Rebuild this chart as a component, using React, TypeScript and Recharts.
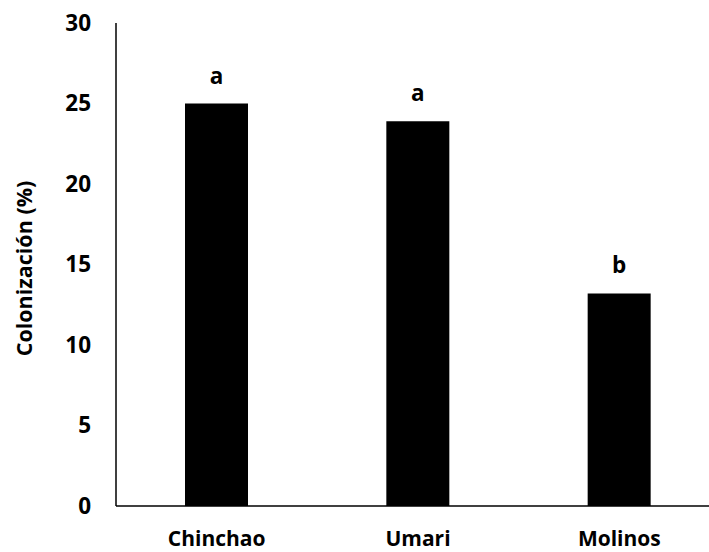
import { BarChart, Bar, XAxis, YAxis, LabelList, Label } from 'recharts'

const sites = ['Chinchao', 'Umari', 'Molinos']
const colonization = [25, 23.9, 13.2]
const groups = ['a', 'a', 'b']
const yTicks = [0, 5, 10, 15, 20, 25, 30]

const data = sites.map((site, i) => ({
  site,
  value: colonization[i],
  group: groups[i],
}))

const font = "'Open Sans', sans-serif"

// rotated axis title, centred on the y axis
function YTitle({ viewBox }: any) {
  const cx = viewBox.x + 23
  const cy = viewBox.y + viewBox.height / 2 + 4
  return (
    <text
      x={cx}
      y={cy}
      transform={`rotate(-90 ${cx} ${cy})`}
      textAnchor="middle"
      dominantBaseline="central"
      fontFamily={font}
      fontWeight={700}
      fontSize={21.5}
      fill="#000"
    >
      Colonización (%)
    </text>
  )
}

export default function App() {
  return (
    <div
      style={{
        position: 'absolute',
        left: 0,
        top: 0,
        width: 709,
        height: 552,
        overflow: 'hidden',
        background: '#fff',
      }}
    >
      <BarChart
        width={720}
        height={552}
        data={data}
        margin={{ top: 23, right: 0, left: 0, bottom: 0 }}
      >
        <XAxis
          dataKey="site"
          height={46}
          axisLine={{ stroke: '#000', strokeWidth: 1.5 }}
          tickLine={false}
          tickSize={0}
          tickMargin={25}
          tick={{ fontSize: 21, fontWeight: 700, fill: '#000', fontFamily: font }}
        />
        <YAxis
          width={116}
          domain={[0, 30]}
          ticks={yTicks}
          axisLine={{ stroke: '#000', strokeWidth: 1.5 }}
          tickLine={false}
          tickSize={0}
          tickMargin={25}
          tick={{ fontSize: 22.5, fontWeight: 700, fill: '#000', fontFamily: font }}
        >
          <Label content={(props: any) => <YTitle {...props} />} />
        </YAxis>
        <Bar dataKey="value" fill="#000" barSize={63} isAnimationActive={false}>
          <LabelList
            dataKey="group"
            position="top"
            offset={20}
            fill="#000"
            style={{ fontSize: 22.5, fontWeight: 700, fontFamily: font }}
          />
        </Bar>
      </BarChart>
    </div>
  )
}
